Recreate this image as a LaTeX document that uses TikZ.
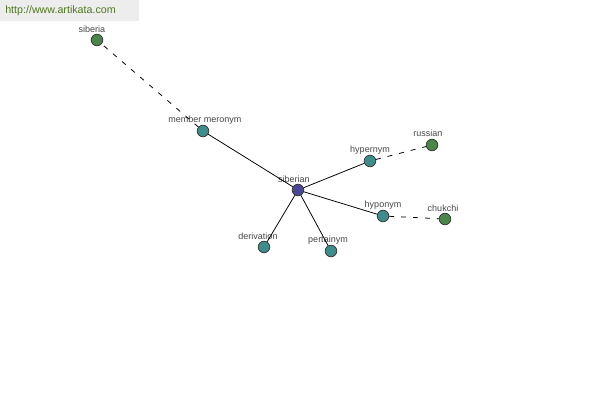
\documentclass[tikz,border=0pt]{standalone}
\usepackage{fontspec}
\setmainfont{Liberation Sans}
\usepackage{tikz}
\usetikzlibrary{positioning}
\usepackage{xcolor}
\definecolor{hubcol}{RGB}{72, 72, 150}
\definecolor{relcol}{RGB}{62, 140, 140}
\definecolor{wordcol}{RGB}{74, 134, 74}
\definecolor{labcol}{RGB}{70, 70, 70}
\definecolor{sitecol}{RGB}{78, 120, 30}

\begin{document}
\begin{tikzpicture}[
    x=0.025cm, y=-0.025cm,
    dot/.style={circle, draw=black!80, line width=0.5pt, inner sep=0pt, minimum size=0.29cm},
    hub/.style={dot, fill=hubcol},
    rel/.style={dot, fill=relcol},
    word/.style={dot, fill=wordcol},
    tag/.style={font=\fontsize{6.4}{7}\selectfont, text=labcol, inner sep=0pt},
    link/.style={line width=0.55pt},
    far/.style={line width=0.55pt, dash pattern=on 3.5pt off 5pt}
]
\useasboundingbox (0,0) rectangle (600,400);
\fill[black!7] (0,0) rectangle (139,21);
\node[font=\fontsize{7.6}{9}\selectfont, text=sitecol, anchor=west, inner sep=0pt] (site) at (5,11) {http://www.artikata.com};

\node[hub] (siberian) at (298,190) {};
\node[rel] (meronym) at (203,131) {};
\node[rel] (hypernym) at (370,161) {};
\node[rel] (hyponym) at (383,216) {};
\node[rel] (derivation) at (264,247) {};
\node[rel] (pertainym) at (331,251) {};
\node[word] (siberia) at (97,40) {};
\node[word] (russian) at (432,145) {};
\node[word] (chukchi) at (445,219) {};

\node[tag] (siberian-t) at (294,179) {siberian};
\node[tag] (meronym-t) at (205,120) {member meronym};
\node[tag] (hypernym-t) at (370,150) {hypernym};
\node[tag] (hyponym-t) at (383,205) {hyponym};
\node[tag] (derivation-t) at (258,236) {derivation};
\node[tag] (pertainym-t) at (328,240) {pertainym};
\node[tag] (siberia-t) at (92,29) {siberia};
\node[tag] (russian-t) at (428,133) {russian};
\node[tag] (chukchi-t) at (443,208) {chukchi};

\draw[link] (siberian) -- (meronym);
\draw[link] (siberian) -- (hypernym);
\draw[link] (siberian) -- (hyponym);
\draw[link] (siberian) -- (derivation);
\draw[link] (siberian) -- (pertainym);
\draw[far] (meronym) -- (siberia);
\draw[far] (hypernym) -- (russian);
\draw[far] (hyponym) -- (chukchi);

\end{tikzpicture}
\end{document}
